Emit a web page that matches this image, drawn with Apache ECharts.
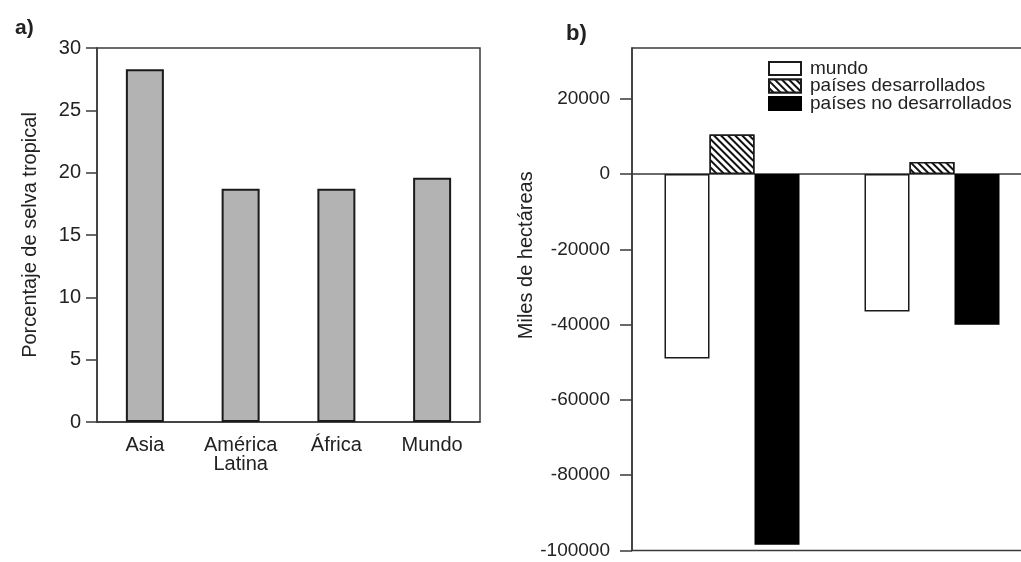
<!DOCTYPE html>
<html>
<head>
<meta charset="utf-8">
<script src="https://cdn.jsdelivr.net/npm/echarts@6/dist/echarts.min.js"></script>
<style>
  html, body { margin: 0; padding: 0; background: #fff; }
  #chart { width: 1021px; height: 562px; }
</style>
</head>
<body>
<div id="chart"></div>
<script>
// a) porcentaje de selva tropical
var regions = ['Asia', 'América\nLatina', 'África', 'Mundo'];
var tropicalPct = [28.3, 18.7, 18.7, 19.6];

// b) cambio de superficie forestal (miles de hectáreas)
var periods = ['periodo 1', 'periodo 2'];
var worldChange = [-49000, -36500];
var developedChange = [10500, 3200];
var developingChange = [-98500, -40000];
var changeTicks = [-100000, -80000, -60000, -40000, -20000, 0, 20000];

var font = "'Liberation Sans', Arial, sans-serif";
var ink = '#222';
var lineColor = '#3a3a3a';

var chart = echarts.init(document.getElementById('chart'));

// rayado diagonal para "países desarrollados"
var hatch = {
  symbol: 'rect',
  symbolSize: 1,
  color: '#111',
  backgroundColor: '#fff',
  dashArrayX: [1, 0],
  dashArrayY: [2, 3],
  rotation: Math.PI / 4
};

var option = {
  backgroundColor: '#fff',
  animation: false,
  textStyle: { fontFamily: font },
  title: [
    { text: 'a)', left: 10, top: 13, textStyle: { fontSize: 21, fontWeight: 'bold', color: ink, fontFamily: font } },
    { text: 'b)', left: 561, top: 18, textStyle: { fontSize: 22, fontWeight: 'bold', color: ink, fontFamily: font } }
  ],
  legend: {
    orient: 'vertical',
    left: 768,
    top: 59,
    padding: 0,
    itemWidth: 32,
    itemHeight: 13,
    itemGap: -1.5,
    icon: 'rect',
    data: ['mundo', 'países desarrollados', 'países no desarrollados'],
    textStyle: { fontSize: 19, lineHeight: 16, color: ink, fontFamily: font, padding: [0, 0, 0, 4] }
  },
  grid: [
    { left: 97, top: 48, width: 383, height: 374, outerBoundsMode: 'none', show: true, borderColor: lineColor, borderWidth: 1.5 },
    { left: 632, top: 48, width: 400, height: 502.5, outerBoundsMode: 'none', show: true, borderColor: lineColor, borderWidth: 1.5 }
  ],
  xAxis: [
    {
      gridIndex: 0,
      type: 'category',
      data: regions,
      axisLine: { lineStyle: { color: lineColor, width: 1.5 } },
      axisTick: { show: false },
      axisLabel: { color: ink, fontSize: 20, margin: 14, lineHeight: 19, fontFamily: font }
    },
    {
      gridIndex: 1,
      type: 'category',
      data: periods,
      axisLine: { onZero: true, lineStyle: { color: lineColor, width: 1.5 } },
      axisTick: { show: false },
      axisLabel: { show: false }
    }
  ],
  yAxis: [
    {
      gridIndex: 0,
      type: 'value',
      min: 0,
      max: 30,
      interval: 5,
      name: 'Porcentaje de selva tropical',
      nameLocation: 'middle',
      nameGap: 57,
      nameTextStyle: { fontSize: 20, color: ink, fontFamily: font },
      axisLine: { show: true, lineStyle: { color: lineColor, width: 1.5 } },
      axisTick: { show: true, length: 11, lineStyle: { color: lineColor, width: 1.5 } },
      axisLabel: { color: ink, fontSize: 20, margin: 16, fontFamily: font },
      splitLine: { show: false }
    },
    {
      gridIndex: 1,
      type: 'value',
      min: -100000,
      max: 33500,
      name: 'Miles de hectáreas',
      nameLocation: 'middle',
      nameGap: 93,
      nameTextStyle: { fontSize: 20, color: ink, fontFamily: font, padding: [0, 0, 0, 88] },
      axisLine: { show: true, onZero: false, lineStyle: { color: lineColor, width: 1.5 } },
      axisTick: { show: true, length: 12, customValues: changeTicks, lineStyle: { color: lineColor, width: 1.5 } },
      axisLabel: {
        color: ink,
        fontSize: 19,
        margin: 22,
        customValues: changeTicks,
        fontFamily: font,
        formatter: function(v) { return String(v); }
      },
      splitLine: { show: false }
    }
  ],
  series: [
    {
      name: 'Porcentaje',
      type: 'bar',
      xAxisIndex: 0,
      yAxisIndex: 0,
      barWidth: 38,
      data: tropicalPct,
      itemStyle: { color: '#b3b3b3', borderColor: '#1a1a1a', borderWidth: 2 }
    },
    {
      name: 'mundo',
      type: 'bar',
      xAxisIndex: 1,
      yAxisIndex: 1,
      barWidth: 45,
      barGap: '0%',
      data: worldChange,
      itemStyle: { color: '#fff', borderColor: '#1a1a1a', borderWidth: 1.5 }
    },
    {
      name: 'países desarrollados',
      type: 'bar',
      xAxisIndex: 1,
      yAxisIndex: 1,
      barWidth: 45,
      barGap: '0%',
      data: developedChange,
      itemStyle: { color: '#fff', borderColor: '#1a1a1a', borderWidth: 1.5, decal: hatch }
    },
    {
      name: 'países no desarrollados',
      type: 'bar',
      xAxisIndex: 1,
      yAxisIndex: 1,
      barWidth: 45,
      barGap: '0%',
      data: developingChange,
      itemStyle: { color: '#000', borderColor: '#000', borderWidth: 1.5 }
    }
  ]
};

chart.setOption(option);
</script>
</body>
</html>
